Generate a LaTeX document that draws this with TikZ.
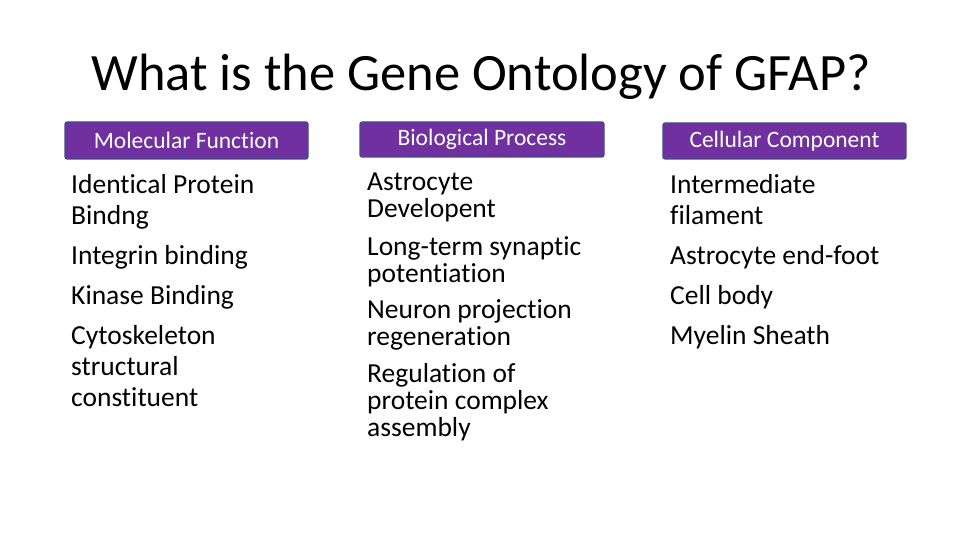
\documentclass[tikz,border=0pt]{standalone}
\usepackage{fontspec}
\setmainfont{Carlito}[RawFeature=-liga]
\definecolor{hdr}{HTML}{7030A0}
\definecolor{hdrb}{HTML}{3F4D8A}
\begin{document}
\begin{tikzpicture}[x=1pt,y=-1pt,
 hbox/.style={draw=hdrb,line width=1.2pt,fill=hdr,rounded corners=2pt,text=white,font=\fontsize{23.5}{26}\selectfont},
 itemA/.style={anchor=north west,inner sep=0pt,align=left,font=\fontsize{27.5}{31}\selectfont},
 itemB/.style={anchor=north west,inner sep=0pt,align=left,font=\fontsize{27.5}{27}\selectfont}]
\useasboundingbox (0,0) rectangle (960,540);
\node[font=\fontsize{52.5}{56}\selectfont] (title) at (481,77) {What is the Gene Ontology of GFAP?};
\node[hbox,minimum width=243,minimum height=37] (mf) at (186.5,140.5) {Molecular Function};
\node[hbox,minimum width=244,minimum height=35] (bp) at (482,139.5) {Biological Process};
\node[hbox,minimum width=243,minimum height=36] (cc) at (784.5,141) {Cellular Component};
\node[itemA] (a1) at (71,174) {Identical Protein\\Bindng};
\node[itemA] (a2) at (71,245) {Integrin binding};
\node[itemA] (a3) at (71,285) {Kinase Binding};
\node[itemA] (a4) at (71,325) {Cytoskeleton\\structural\\constituent};
\node[itemB] (b1) at (367,172.5) {Astrocyte\\Developent};
\node[itemB] (b2) at (367,236.5) {Long-term synaptic\\potentiation};
\node[itemB] (b3) at (367,299.5) {Neuron projection\\regeneration};
\node[itemB] (b4) at (367,363.5) {Regulation of\\protein complex\\assembly};
\node[itemA] (c1) at (670,174) {Intermediate\\filament};
\node[itemA] (c2) at (670,245) {Astrocyte end-foot};
\node[itemA] (c3) at (670,285) {Cell body};
\node[itemA] (c4) at (670,325) {Myelin Sheath};
\end{tikzpicture}
\end{document}
